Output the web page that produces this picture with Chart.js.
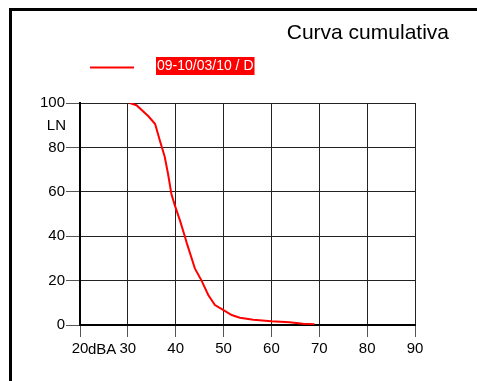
<!DOCTYPE html>
<html>
<head>
<meta charset="utf-8">
<script src="https://cdn.jsdelivr.net/npm/chart.js@4"></script>
<style>
  html, body { margin: 0; padding: 0; background: #fff; overflow: hidden; }
  #wrap { position: relative; width: 477px; height: 381px; }
  #frame { position: absolute; left: 9px; top: 8px; width: 600px; height: 500px; border: 3px solid #000; box-sizing: border-box; pointer-events: none; }
  canvas { position: absolute; left: 0; top: 0; }
</style>
</head>
<body>
<div id="wrap">
  <canvas id="c" width="477" height="381"></canvas>
  <div id="frame"></div>
</div>
<script>
const chartTitle = "Curva cumulativa";
const seriesLabel = "09-10/03/10 / D";
const xUnit = "dBA";
const yUnit = "LN";
const xTicks = [20, 30, 40, 50, 60, 70, 80, 90];
const yTicks = [0, 20, 40, 60, 80, 100];
const levels = [30.4, 31.8, 34.3, 35.7, 36.7, 37.7, 38.4, 39.1, 39.8, 40.9, 41.9, 42.3, 44.0, 45.4, 46.8, 48.2, 49.9, 51.7, 53.4, 56.2, 60.0, 63.8, 66.6, 69.0];
const lnValues = [100, 99, 94, 90.5, 83, 75.8, 68, 59, 54, 47, 40, 37, 25.5, 20, 13.5, 9, 6.8, 4.5, 3.3, 2.4, 1.7, 1.2, 0.6, 0.3];

const FONT = "'Liberation Sans', Arial, sans-serif";

const extras = {
  id: 'extras',
  afterDraw(chart) {
    const ctx = chart.ctx;
    const xs = chart.scales.x, ys = chart.scales.y;
    ctx.save();
    // title
    ctx.fillStyle = '#000';
    ctx.font = "21px " + FONT;
    ctx.textAlign = 'right';
    ctx.textBaseline = 'alphabetic';
    ctx.fillText(chartTitle, 449, 39);
    // legend
    const ds = chart.data.datasets[0];
    ctx.strokeStyle = ds.borderColor;
    ctx.lineWidth = 2;
    ctx.beginPath();
    ctx.moveTo(90, 67.5);
    ctx.lineTo(134, 67.5);
    ctx.stroke();
    ctx.font = "14px " + FONT;
    const w = ctx.measureText(ds.label).width;
    ctx.fillStyle = ds.borderColor;
    ctx.fillRect(156, 57, w + 2, 18);
    ctx.fillStyle = '#fff';
    ctx.textAlign = 'left';
    ctx.textBaseline = 'middle';
    ctx.fillText(ds.label, 157, 66.5);
    // unit labels
    ctx.fillStyle = '#000';
    ctx.font = "15px " + FONT;
    ctx.textAlign = 'right';
    ctx.textBaseline = 'middle';
    ctx.fillText(yUnit, 66, ys.getPixelForValue(100) + 23);
    ctx.textAlign = 'left';
    ctx.textBaseline = 'top';
    ctx.fillText(xUnit, xs.getPixelForValue(20) + 8, 342);
    ctx.restore();
  }
};

new Chart(document.getElementById('c'), {
  type: 'line',
  data: {
    datasets: [{
      label: seriesLabel,
      data: levels.map((x, i) => ({ x: x, y: lnValues[i] })),
      borderColor: '#ff0000',
      borderWidth: 2,
      pointRadius: 0,
      tension: 0,
      fill: false
    }]
  },
  options: {
    responsive: false,
    animation: false,
    layout: { padding: { left: 10, right: 62, top: 103, bottom: 16 } },
    plugins: { legend: { display: false }, title: { display: false }, tooltip: { enabled: false } },
    scales: {
      x: {
        type: 'linear',
        min: 20, max: 90,
        afterBuildTicks: (s) => { s.ticks = xTicks.map(v => ({ value: v })); },
        afterFit: (s) => { s.height = 40; },
        grid: { color: '#222', lineWidth: 1, tickLength: 12, tickColor: '#555' },
        border: { color: '#000', width: 2 },
        ticks: { color: '#000', font: { family: FONT, size: 15 }, padding: 3, maxRotation: 0 }
      },
      y: {
        type: 'linear',
        min: 0, max: 100,
        afterBuildTicks: (s) => { s.ticks = yTicks.map(v => ({ value: v })); },
        afterFit: (s) => { s.width = 70; },
        grid: { color: '#222', lineWidth: 1, tickLength: 14, tickColor: '#555' },
        border: { color: '#000', width: 2 },
        ticks: { color: '#000', font: { family: FONT, size: 15 }, padding: 1 }
      }
    }
  },
  plugins: [extras]
});
</script>
</body>
</html>
